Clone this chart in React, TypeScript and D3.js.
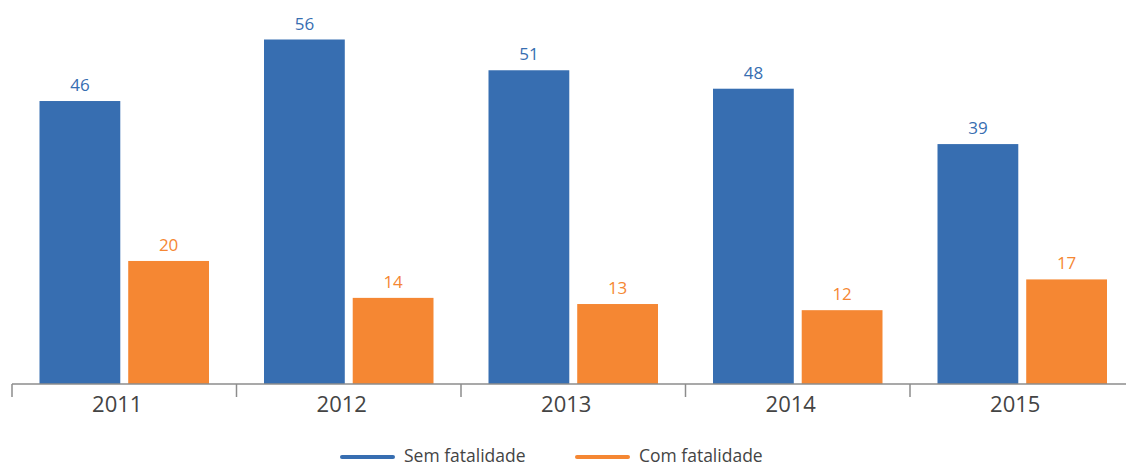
import * as d3 from "d3";

const WIDTH = 1126;
const HEIGHT = 466;

const years = ["2011", "2012", "2013", "2014", "2015"];
const semFatalidade = [46, 56, 51, 48, 39];
const comFatalidade = [20, 14, 13, 12, 17];
const seriesNames = ["Sem fatalidade", "Com fatalidade"];
const seriesColors = ["#376eb1", "#f58733"];

const BASE_Y = 384;
const FONT = "'Open Sans', 'Noto Sans', sans-serif";

export default function App() {
  const xScale = d3.scaleBand().domain(years).range([12, 1134.5]).padding(0);
  const inner = d3
    .scaleBand()
    .domain(seriesNames)
    .range([0, xScale.bandwidth()])
    .paddingInner(0.0894)
    .paddingOuter(0.31);
  const yScale = d3.scaleLinear().domain([0, 56]).range([BASE_Y, 39.5]);

  const series = [semFatalidade, comFatalidade];

  return (
    <svg
      width={WIDTH}
      height={HEIGHT}
      style={{ position: "absolute", left: 0, top: 0, background: "#fff" }}
      fontFamily={FONT}
    >
      {years.map((year, i) => (
        <g key={year} transform={`translate(${xScale(year)},0)`}>
          {series.map((values, s) => {
            const x = inner(seriesNames[s]) ?? 0;
            const v = values[i];
            return (
              <g key={s}>
                <rect
                  x={x}
                  y={yScale(v)}
                  width={inner.bandwidth()}
                  height={BASE_Y - yScale(v)}
                  fill={seriesColors[s]}
                />
                <text
                  x={x + inner.bandwidth() / 2}
                  y={yScale(v) - 10}
                  textAnchor="middle"
                  fontSize={17}
                  fill={seriesColors[s]}
                >
                  {v}
                </text>
              </g>
            );
          })}
        </g>
      ))}

      {/* axis */}
      <line x1={12} x2={WIDTH} y1={BASE_Y} y2={BASE_Y} stroke="#8c8c8c" strokeWidth={1.5} />
      {years.map((year) => (
        <line
          key={"t" + year}
          x1={xScale(year)}
          x2={xScale(year)}
          y1={BASE_Y}
          y2={BASE_Y + 13}
          stroke="#8c8c8c"
          strokeWidth={1.5}
        />
      ))}
      {years.map((year) => (
        <text
          key={"l" + year}
          x={(xScale(year) ?? 0) + xScale.bandwidth() / 2 - 7}
          y={BASE_Y + 28}
          textAnchor="middle"
          fontSize={22}
          fill="#444"
        >
          {year}
        </text>
      ))}

      {/* legend */}
      {seriesNames.map((name, s) => {
        const x0 = s === 0 ? 342 : 577;
        return (
          <g key={name}>
            <line
              x1={x0}
              x2={x0 + 51}
              y1={457}
              y2={457}
              stroke={seriesColors[s]}
              strokeWidth={4}
              strokeLinecap="round"
            />
            <text x={x0 + 62} y={462} fontSize={17.5} fill="#444">
              {name}
            </text>
          </g>
        );
      })}
    </svg>
  );
}
